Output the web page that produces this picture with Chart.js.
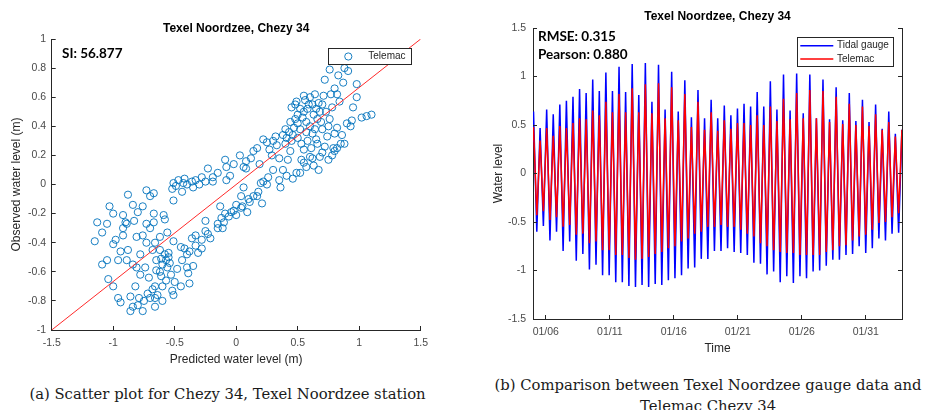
<!DOCTYPE html>
<html><head><meta charset="utf-8">
<script src="https://cdn.jsdelivr.net/npm/chart.js@4.4.1/dist/chart.umd.min.js"></script>
<style>
html,body{margin:0;padding:0;background:#fff;}
body{width:927px;height:410px;position:relative;overflow:hidden;}
canvas{position:absolute;}
.note{position:absolute;font-family:Lato,"Open Sans",sans-serif;font-weight:700;font-size:13.5px;color:#000;white-space:nowrap;line-height:1;transform:translateY(-50%);}
.cap{position:absolute;font-family:"DejaVu Serif",serif;font-size:14.8px;color:#1a1a1a;white-space:nowrap;line-height:1;transform:translate(-50%,-50%);}
</style></head><body>
<canvas id="c1" width="460" height="372" style="left:0;top:0"></canvas>
<canvas id="c2" width="464" height="372" style="left:463px;top:0"></canvas>
<div class="note" style="left:62px;top:53.5px">SI: 56.877</div>
<div class="note" style="left:538px;top:36.7px">RMSE: 0.315</div>
<div class="note" style="left:538px;top:54.5px">Pearson: 0.880</div>
<div class="cap" style="left:227.5px;top:393.5px">(a) Scatter plot for Chezy 34, Texel Noordzee station</div>
<div class="cap" style="left:708px;top:385px">(b) Comparison between Texel Noordzee gauge data and</div>
<div class="cap" style="left:708px;top:406px">Telemac Chezy 34</div>
<script>
// ---------- Scatter data (a) ----------
const predicted = [
 -1.15,-1.13,-1.09,-1.09,-1.05,-1.04,-1.05,-1.03,-1.00,-1.00,
 -0.96,-0.94,-1.00,-0.96,-0.94,-0.92,-0.90,-0.92,-0.89,-0.89,
 -0.88,-0.86,-0.84,-0.86,-0.84,-0.82,-0.81,-0.81,-0.80,-0.79,
 -0.78,-0.76,-0.76,-0.74,-0.73,-0.73,-0.73,-0.71,-0.70,-0.70,
 -0.68,-0.67,-0.67,-0.67,-0.66,-0.66,-0.65,-0.65,-0.64,-0.62,
 -0.61,-0.61,-0.60,-0.59,-0.58,-0.57,-0.56,-0.56,-0.55,-0.54,
 -0.51,-0.51,-0.51,-0.52,-0.51,-0.50,-0.45,-0.44,-0.43,-0.42,
 -0.40,-0.39,-0.38,-0.38,-0.36,-0.35,-0.35,-0.33,-0.33,-0.31,
 -0.30,-0.28,-0.25,-0.23,-0.21,-0.19,-0.15,-0.13,-0.12,-0.10,
 -0.09,-0.08,-0.04,0.00,0.04,0.04,0.06,0.09,0.11,0.14,
 0.17,0.20,0.21,0.25,0.36,-0.49,-0.42,-0.36,-0.25,-0.23,
 -0.19,-0.09,-0.08,-0.05,-0.02,0.03,0.06,0.08,0.14,0.17,
 0.19,0.22,0.25,0.29,0.32,0.33,0.35,0.38,0.40,0.41,
 0.42,0.44,0.44,0.45,0.46,0.47,0.49,0.50,0.50,0.52,
 0.53,0.55,0.55,0.57,0.57,0.59,0.60,0.61,0.63,0.64,
 0.65,0.67,0.68,0.69,0.71,0.72,0.74,0.75,0.76,0.78,
 0.79,0.80,0.82,0.83,0.84,0.86,0.87,0.88,0.91,0.94,
 0.95,0.98,0.98,1.02,1.06,1.10,0.93,0.88,0.80,0.72,
 0.67,0.63,0.57,0.49,0.41,0.35,0.48,0.52,0.55,0.60,
 0.62,0.66,0.70,0.73,0.76,0.53,0.58,0.45,0.38,0.48,
 0.52,0.60,0.65,0.70,0.77,0.82,0.75,0.80,0.85,0.90,
 0.62,0.55,0.70,0.78,0.82,0.66,0.26,0.30,0.22,0.18,
 0.10,0.05,-0.02,0.00,-0.06,-0.11,-0.15,-0.58,-0.60,-0.55,
 -0.62,-0.57,-0.53,-0.68,-0.72,-0.75,-0.80,-0.78,-0.84,-0.88,
 -0.92,-0.98,-0.83,-0.76,-0.70,-0.62,-0.66,-0.48,-0.44,-0.40,
 -0.33,-0.28,-0.25,-0.45,-0.52,-0.60,-0.66,0.40,0.43,0.46,
 0.50,0.54,0.58,0.62,0.56,0.64,0.68,0.30,0.27,0.12,
 0.08,-0.15,-0.28,-0.40,-0.47
];
const observed = [
 -0.39,-0.26,-0.33,-0.55,-0.27,-0.65,-0.52,-0.15,-0.20,-0.41,
 -0.52,-0.46,-0.70,-0.78,-0.81,-0.21,-0.26,-0.35,-0.52,-0.27,
 -0.07,-0.87,-0.84,-0.77,-0.14,-0.70,-0.36,-0.57,-0.19,-0.78,
 -0.48,-0.15,-0.87,-0.57,-0.04,-0.27,-0.40,-0.64,-0.08,-0.78,
 -0.45,-0.06,-0.20,-0.26,-0.84,-0.70,-0.52,-0.59,-0.76,-0.36,
 -0.63,-0.51,-0.70,-0.21,-0.24,-0.52,-0.57,-0.33,-0.47,-0.54,
 0.01,-0.76,-0.11,-0.03,-0.39,-0.67,-0.43,-0.05,0.01,-0.44,
 -0.57,-0.61,-0.68,-0.46,-0.37,-0.02,-0.56,-0.35,0.03,-0.47,
 0.00,-0.44,-0.25,-0.34,-0.37,0.02,-0.30,-0.15,-0.23,-0.26,
 -0.20,0.03,-0.19,-0.21,-0.08,-0.16,-0.02,-0.19,-0.12,-0.08,
 -0.08,0.01,-0.13,0.00,-0.02,-0.01,0.04,0.02,0.02,0.11,
 0.05,0.17,0.12,0.06,0.14,0.20,0.12,0.11,0.23,0.25,
 0.14,0.31,0.29,0.20,0.33,0.27,0.18,0.10,0.38,0.32,
 0.17,0.23,0.43,0.53,0.04,0.39,0.57,0.48,0.32,0.08,
 0.17,0.61,0.24,0.43,0.36,0.55,0.19,0.25,0.48,0.38,
 0.31,0.56,0.19,0.43,0.61,0.72,0.33,0.17,0.79,0.53,
 0.25,0.66,0.39,0.75,0.57,0.34,0.70,0.80,0.78,0.44,
 0.53,0.69,0.60,0.46,0.47,0.48,0.40,0.28,0.23,0.26,
 0.10,0.13,0.12,0.08,0.06,0.03,0.45,0.38,0.50,0.40,
 0.35,0.45,0.38,0.50,0.45,0.28,0.30,0.30,0.34,0.55,
 0.52,0.60,0.52,0.55,0.62,0.62,0.40,0.35,0.28,0.42,
 0.18,0.15,0.22,0.20,0.25,0.28,0.05,0.10,0.02,-0.05,
 -0.10,-0.15,-0.18,-0.14,-0.22,-0.30,-0.27,-0.48,-0.55,-0.50,
 -0.60,-0.66,-0.62,-0.72,-0.75,-0.80,-0.83,-0.62,-0.55,-0.45,
 -0.30,-0.38,-0.25,-0.35,-0.30,-0.45,-0.40,-0.58,-0.52,-0.48,
 -0.42,-0.38,-0.32,-0.70,-0.73,-0.80,-0.78,0.28,0.36,0.34,
 0.42,0.46,0.52,0.55,0.58,0.62,0.50,0.30,0.24,0.18,
 0.16,0.08,0.05,0.00,0.03
];
const refLineX = [-1.5, 1.5];
const refLineY = [-1, 1];
const xTicksA = [-1.5,-1,-0.5,0,0.5,1,1.5];
const yTicksA = [-1,-0.8,-0.6,-0.4,-0.2,0,0.2,0.4,0.6,0.8,1];

// ---------- Time series data (b): successive high / low waters ----------
const gaugeHigh = [0.64,0.47,0.66,0.61,0.71,0.75,0.79,0.87,0.83,0.97,
 0.85,1.04,0.85,1.10,0.84,1.13,0.81,1.14,0.74,1.12,
 0.66,1.05,0.64,0.96,0.58,0.86,0.57,0.76,0.57,0.70,
 0.60,0.67,0.72,0.69,0.84,0.69,0.95,0.66,1.02,0.65,
 1.03,0.62,1.02,0.57,0.97,0.56,0.89,0.55,0.83,0.54,
 0.76,0.53,0.71,0.46,0.64,0.41,0.45];
const gaugeLow = [-0.60,-0.54,-0.69,-0.60,-0.80,-0.70,-0.90,-0.83,-0.99,-0.94,
 -1.05,-1.05,-1.12,-1.12,-1.16,-1.17,-1.15,-1.17,-1.14,-1.15,
 -1.10,-1.08,-1.05,-0.98,-0.97,-0.88,-0.88,-0.80,-0.80,-0.77,
 -0.81,-0.82,-0.84,-0.92,-0.93,-1.04,-1.01,-1.12,-1.06,-1.13,
 -1.06,-1.08,-1.01,-1.00,-0.95,-0.89,-0.89,-0.84,-0.83,-0.75,
 -0.82,-0.77,-0.67,-0.69,-0.62,-0.61];
const modelHigh = [0.48,0.34,0.47,0.39,0.49,0.47,0.52,0.57,0.56,0.65,
 0.60,0.74,0.63,0.82,0.63,0.88,0.63,0.92,0.62,0.93,
 0.57,0.89,0.55,0.82,0.48,0.74,0.45,0.63,0.44,0.55,
 0.46,0.52,0.52,0.50,0.60,0.50,0.69,0.54,0.77,0.56,
 0.83,0.57,0.86,0.57,0.85,0.53,0.79,0.51,0.72,0.50,
 0.69,0.49,0.61,0.45,0.53,0.38,0.45];
const modelLow = [-0.43,-0.39,-0.48,-0.45,-0.55,-0.53,-0.63,-0.62,-0.72,-0.70,
 -0.79,-0.79,-0.84,-0.84,-0.87,-0.89,-0.88,-0.86,-0.83,-0.81,
 -0.77,-0.75,-0.70,-0.67,-0.62,-0.60,-0.55,-0.55,-0.53,-0.55,
 -0.55,-0.58,-0.62,-0.65,-0.72,-0.75,-0.79,-0.81,-0.82,-0.82,
 -0.84,-0.84,-0.84,-0.84,-0.81,-0.79,-0.75,-0.74,-0.69,-0.65,
 -0.63,-0.58,-0.51,-0.50,-0.45,-0.41];
const gaugeStart = 0.33, modelStart = 0.35;
const axisStartDay = 5.0, axisEndDay = 33.83;     // days of January
const firstHighDay = 5.04, cycleDays = 0.514;      // semi-diurnal tide step
const dayTicks = [6,11,16,21,26,31];
const yTicksB = [-1.5,-1,-0.5,0,0.5,1,1.5];

function tideSeries(start, highs, lows){
  const pts=[{x:axisStartDay,y:start}];
  highs.forEach((h,i)=>{
    pts.push({x:firstHighDay+i*cycleDays, y:h});
    if(i<lows.length) pts.push({x:firstHighDay+(i+0.5)*cycleDays, y:lows[i]});
  });
  return pts;
}

const FONT = '"Liberation Sans", Arial, Helvetica, sans-serif';
const AX = '#262626', TICKC = '#4a4a4a';
const fmt = v => String(+(+v).toFixed(2));

const inTicks = {
  id:'inTicks',
  afterDraw(chart, args, o){
    const {ctx, chartArea:a, scales} = chart;
    ctx.save(); ctx.strokeStyle=o.color; ctx.lineWidth=1; ctx.beginPath();
    const al = p => Math.round(p-0.5)+0.5;
    scales.x.ticks.forEach(t=>{const p=al(scales.x.getPixelForValue(t.value)); ctx.moveTo(p,a.bottom); ctx.lineTo(p,a.bottom-o.len);});
    scales.y.ticks.forEach(t=>{const p=al(scales.y.getPixelForValue(t.value)); ctx.moveTo(a.left,p); ctx.lineTo(a.left+o.len,p);
      if(o.right){ctx.moveTo(a.right,p); ctx.lineTo(a.right-o.len,p);} });
    if(o.right){const r=al(a.right); ctx.moveTo(r,a.top); ctx.lineTo(r,a.bottom+0.5);}
    ctx.stroke(); ctx.restore();
  }
};
const boxLegend = {
  id:'boxLegend',
  afterDraw(chart, args, o){
    const {ctx, chartArea:a} = chart;
    const items = chart.data.datasets.filter(d=>d.label && d.label[0]!=='_');
    const x1 = Math.round(a.right - o.right - o.w), y1 = Math.round(a.top + o.top);
    ctx.save();
    ctx.fillStyle='#fff'; ctx.fillRect(x1,y1,o.w,o.h);
    ctx.strokeStyle='#262626'; ctx.lineWidth=1; ctx.strokeRect(x1+0.5,y1+0.5,o.w,o.h);
    items.forEach((d,i)=>{
      const cy = y1 + o.firstRow + i*o.rowH;
      ctx.beginPath();
      if(o.marker){ ctx.arc(x1+o.sx, cy, d.pointRadius, 0, Math.PI*2); ctx.strokeStyle=d.pointBorderColor; ctx.lineWidth=1; }
      else { ctx.moveTo(x1+o.sx0, cy); ctx.lineTo(x1+o.sx1, cy); ctx.strokeStyle=d.borderColor; ctx.lineWidth=d.borderWidth; }
      ctx.stroke();
      ctx.fillStyle='#262626'; ctx.font='10px '+FONT; ctx.textBaseline='middle'; ctx.textAlign='left';
      ctx.fillText(d.label, x1+o.tx, cy);
    });
    ctx.restore();
  }
};
Chart.register(inTicks, boxLegend);

function axisCommon(min,max,tickArr,fitFn,padding,title,titlePad,cb){
  return {type:'linear',min,max,
    afterBuildTicks:s=>{s.ticks=tickArr.map(v=>({value:v}));},
    afterFit:fitFn,
    grid:{display:false,drawTicks:false},
    border:{display:true,color:AX,width:1},
    ticks:{padding,color:TICKC,autoSkip:false,maxRotation:0,font:{family:FONT,size:10.5},callback:cb||fmt},
    title:{display:true,text:title,color:AX,font:{family:FONT,size:12,lineHeight:1.2},padding:titlePad}
  };
}

// ---------- Chart (a) ----------
new Chart(document.getElementById('c1'), {
  type:'scatter',
  data:{datasets:[
    {label:'Telemac', data:predicted.map((p,i)=>({x:p,y:observed[i]})),
     pointStyle:'circle', pointRadius:3.6, pointBorderColor:'rgba(0,114,189,0.9)', pointBackgroundColor:'rgba(0,0,0,0)',
     pointBorderWidth:1, borderColor:'rgba(0,114,189,0.9)', backgroundColor:'rgba(0,0,0,0)', order:2},
    {label:'_ref', type:'line', data:refLineX.map((x,i)=>({x,y:refLineY[i]})), borderColor:'#ff2a2a', borderWidth:1,
     pointRadius:0, showLine:true, fill:false, order:1}
  ]},
  options:{
    responsive:false, animation:false, devicePixelRatio:1,
    layout:{padding:{top:0,left:0,right:39.3,bottom:0}},
    plugins:{
      legend:{display:false}, tooltip:{enabled:false},
      title:{display:true,text:'Texel Noordzee, Chezy 34',fullSize:false,color:'#000',
        font:{family:FONT,size:12,weight:'bold',lineHeight:1.2},padding:{top:21.1,bottom:3.5}},
      inTicks:{color:AX,len:4,right:false},
      boxLegend:{marker:true,w:83,h:16,right:9.7,top:9,sx:20.3,tx:40.3,firstRow:8.5,rowH:13}
    },
    scales:{
      x:axisCommon(-1.5,1.5,xTicksA,s=>{s.height=42;},7,'Predicted water level (m)',{top:0,bottom:4.8}),
      y:axisCommon(-1,1,yTicksA,s=>{s.width=51.7;},5.5,'Observed water level (m)',{top:9.8,bottom:0})
    }
  }
});

// ---------- Chart (b) ----------
new Chart(document.getElementById('c2'), {
  type:'line',
  data:{datasets:[
    {label:'Tidal gauge', data:tideSeries(gaugeStart,gaugeHigh,gaugeLow), borderColor:'#0000ff', borderWidth:1.5,
     pointRadius:0, fill:false, tension:0, order:2},
    {label:'Telemac', data:tideSeries(modelStart,modelHigh,modelLow), borderColor:'#ff0000', borderWidth:1.5,
     pointRadius:0, fill:false, tension:0, order:1}
  ]},
  options:{
    responsive:false, animation:false, devicePixelRatio:1, parsing:true,
    layout:{padding:{top:0,left:0,right:25,bottom:0}},
    plugins:{
      legend:{display:false}, tooltip:{enabled:false},
      title:{display:true,text:'Texel Noordzee, Chezy 34',fullSize:false,color:'#000',
        font:{family:FONT,size:12,weight:'bold',lineHeight:1.2},padding:{top:9.5,bottom:4.1}},
      inTicks:{color:AX,len:4,right:true},
      boxLegend:{marker:false,w:96,h:29,right:9.3,top:9.3,sx0:3.3,sx1:36.3,tx:40,firstRow:8.7,rowH:13.3}
    },
    scales:{
      x:axisCommon(axisStartDay,axisEndDay,dayTicks,s=>{s.height=53;},6.4,'Time',{top:0,bottom:16.5},
        v=>'01/'+String(Math.round(v)).padStart(2,'0')),
      y:axisCommon(-1.5,1.5,yTicksB,s=>{s.width=70;},7,'Water level',{top:28.1,bottom:0})
    }
  }
});
</script>
</body></html>
